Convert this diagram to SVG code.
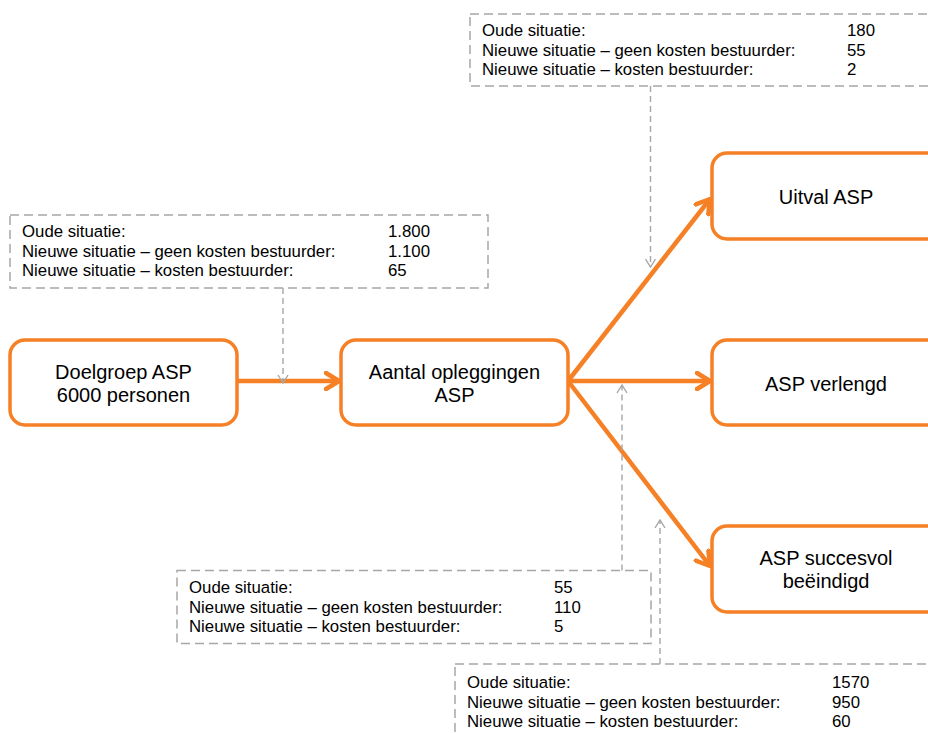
<svg xmlns="http://www.w3.org/2000/svg" width="928" height="733" viewBox="0 0 928 733">
<style>
.node{fill:#fff;stroke:#F58025;stroke-width:3.5}
.nt{font-family:"Liberation Sans",Arial,sans-serif;font-size:20px;fill:#000;text-anchor:middle}
.info{fill:#fff;stroke:#A6A6A6;stroke-width:1.5;stroke-dasharray:9 5}
.it{font-family:"Liberation Sans",Arial,sans-serif;font-size:16.8px;fill:#000}
.flow{fill:none;stroke:#F58025;stroke-width:4.5}
.dash{fill:none;stroke:#A6A6A6;stroke-width:1.4;stroke-dasharray:6 4}
</style>
<defs>
<marker id="oa" viewBox="0 0 17 20" refX="15" refY="10" markerWidth="17" markerHeight="20" markerUnits="userSpaceOnUse" orient="auto">
<path d="M2,2 L15,10 L2,18" fill="none" stroke="#F58025" stroke-width="4.5" stroke-linecap="round" stroke-linejoin="round"/>
</marker>
<marker id="ga" viewBox="0 0 10 12" refX="9" refY="6" markerWidth="10" markerHeight="12" markerUnits="userSpaceOnUse" orient="auto">
<path d="M1,1 L9,6 L1,11" fill="none" stroke="#A6A6A6" stroke-width="1.4"/>
</marker>
</defs>

<g id="info-top">
<rect class="info" x="470" y="14" width="480" height="72"/>
<text class="it" x="482" y="36">Oude situatie:</text>
<text class="it" x="482" y="55.5">Nieuwe situatie – geen kosten bestuurder:</text>
<text class="it" x="482" y="75">Nieuwe situatie – kosten bestuurder:</text>
<text class="it" x="847" y="36">180</text>
<text class="it" x="847" y="55.5">55</text>
<text class="it" x="847" y="75">2</text>
</g>

<g id="info-left">
<rect class="info" x="10" y="215" width="478" height="73"/>
<text class="it" x="22" y="237">Oude situatie:</text>
<text class="it" x="22" y="256.5">Nieuwe situatie – geen kosten bestuurder:</text>
<text class="it" x="22" y="276">Nieuwe situatie – kosten bestuurder:</text>
<text class="it" x="388" y="237">1.800</text>
<text class="it" x="388" y="256.5">1.100</text>
<text class="it" x="388" y="276">65</text>
</g>

<g id="info-bottom-left">
<rect class="info" x="177" y="570.5" width="474" height="73"/>
<text class="it" x="189" y="593">Oude situatie:</text>
<text class="it" x="189" y="612.5">Nieuwe situatie – geen kosten bestuurder:</text>
<text class="it" x="189" y="632">Nieuwe situatie – kosten bestuurder:</text>
<text class="it" x="554" y="593">55</text>
<text class="it" x="554" y="612.5">110</text>
<text class="it" x="554" y="632">5</text>
</g>

<g id="info-bottom-right">
<rect class="info" x="455" y="664" width="490" height="90"/>
<text class="it" x="467" y="688">Oude situatie:</text>
<text class="it" x="467" y="707.5">Nieuwe situatie – geen kosten bestuurder:</text>
<text class="it" x="467" y="727">Nieuwe situatie – kosten bestuurder:</text>
<text class="it" x="832" y="688">1570</text>
<text class="it" x="832" y="707.5">950</text>
<text class="it" x="832" y="727">60</text>
</g>

<g id="connectors">
<line class="flow" x1="237" y1="381" x2="339" y2="381" marker-end="url(#oa)"/>
<line class="flow" x1="568" y1="381" x2="710" y2="199" marker-end="url(#oa)"/>
<line class="flow" x1="568" y1="381" x2="710" y2="381" marker-end="url(#oa)"/>
<line class="flow" x1="568" y1="381" x2="710" y2="566" marker-end="url(#oa)"/>
<line class="dash" x1="650.5" y1="86" x2="650.5" y2="267" marker-end="url(#ga)"/>
<line class="dash" x1="283" y1="288" x2="283" y2="383" marker-end="url(#ga)"/>
<line class="dash" x1="622" y1="570.5" x2="622" y2="385" marker-end="url(#ga)"/>
<line class="dash" x1="660" y1="664" x2="660" y2="520" marker-end="url(#ga)"/>
</g>

<g id="doelgroep">
<rect class="node" x="10" y="340" width="227" height="85" rx="15"/>
<text class="nt" x="123.5" y="379">Doelgroep ASP</text>
<text class="nt" x="123.5" y="402">6000 personen</text>
</g>

<g id="aantal">
<rect class="node" x="341" y="340" width="227" height="85" rx="15"/>
<text class="nt" x="454.5" y="379">Aantal opleggingen</text>
<text class="nt" x="454.5" y="402">ASP</text>
</g>

<g id="uitval">
<rect class="node" x="712" y="153" width="240" height="86" rx="15"/>
<text class="nt" x="826" y="204">Uitval ASP</text>
</g>

<g id="verlengd">
<rect class="node" x="712" y="340" width="240" height="85" rx="15"/>
<text class="nt" x="826" y="391">ASP verlengd</text>
</g>

<g id="succesvol">
<rect class="node" x="712" y="526" width="240" height="86" rx="15"/>
<text class="nt" x="826" y="565">ASP succesvol</text>
<text class="nt" x="826" y="588">beëindigd</text>
</g>
</svg>
